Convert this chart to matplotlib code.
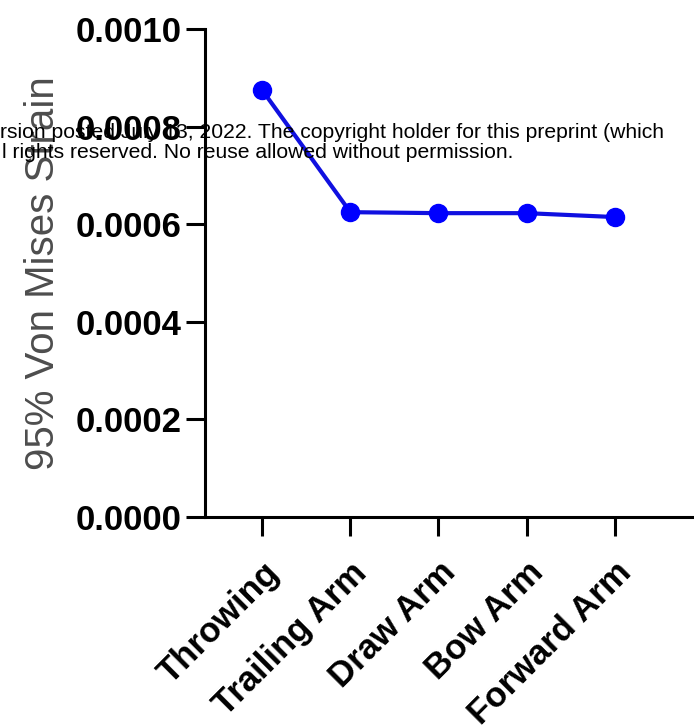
import numpy as np
import matplotlib
matplotlib.use("Agg")
import matplotlib.pyplot as plt
from matplotlib.ticker import FormatStrFormatter

# Values
categories = ["Throwing", "Trailing Arm", "Draw Arm", "Bow Arm", "Forward Arm"]
strain = [0.000875, 0.000625, 0.000623, 0.000623, 0.000615]
y_ticks = [0.0, 0.0002, 0.0004, 0.0006, 0.0008, 0.0010]
watermark = [
    "rsion posted July 13, 2022. The copyright holder for this preprint (which",
    "l rights reserved. No reuse allowed without permission.",
]

plt.rcParams["font.family"] = ["Liberation Sans", "DejaVu Sans"]

fig = plt.figure(figsize=(6.94, 7.28), dpi=100)
ax = fig.add_axes([0.2954, 0.2898, 0.7046, 0.670])

x = np.arange(len(categories))
ax.plot(x, strain, color="#1010e0", lw=3, marker="o", ms=13,
        markerfacecolor="#0000ff", markeredgecolor="#0000ff", clip_on=False)

ax.set_xlim(-0.65, 4.9)
ax.set_ylim(0, 0.001)
ax.set_yticks(y_ticks)
ax.yaxis.set_major_formatter(FormatStrFormatter("%.4f"))
ax.set_xticks(x)
ax.set_xticklabels(categories, rotation=45, ha="right", rotation_mode="anchor")

for side in ["top", "right"]:
    ax.spines[side].set_visible(False)
for side in ["left", "bottom"]:
    ax.spines[side].set_linewidth(2.2)

ax.tick_params(axis="both", length=14, width=2.2, labelsize=25)
ax.tick_params(axis="y", pad=3)
ax.tick_params(axis="x", pad=14)
for lab in ax.get_xticklabels() + ax.get_yticklabels():
    lab.set_fontweight("bold")

ax.set_ylabel("95% Von Mises Strain", fontsize=29, color="#4d4d4d", labelpad=10)

# preprint overlay text
fig.text(0.0, 1 - 138 / 728, watermark[0], fontsize=15.2, color="black", va="baseline")
fig.text(0.003, 1 - 158 / 728, watermark[1], fontsize=15.2, color="black", va="baseline")

fig.savefig("out.png", dpi=100)
